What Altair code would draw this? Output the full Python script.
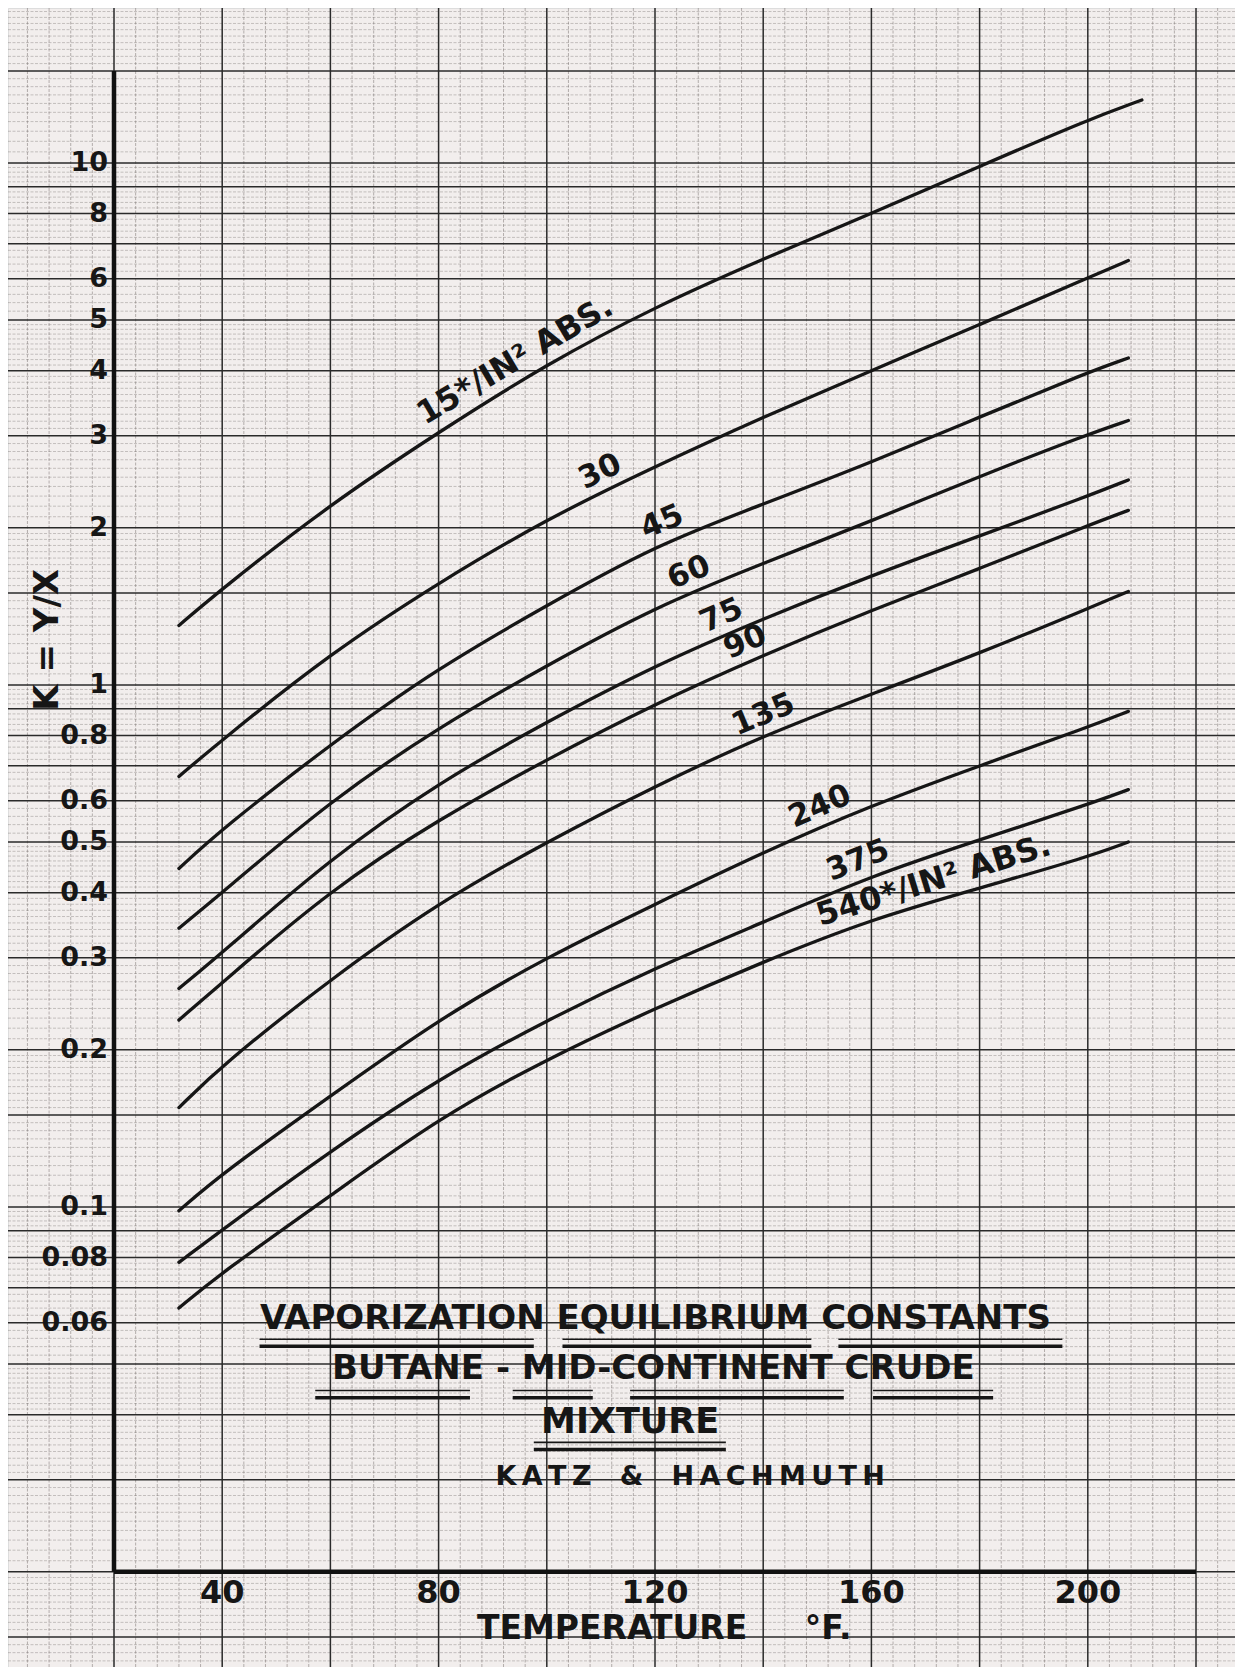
import math
import altair as alt
import numpy as np
import pandas as pd

# ---------------- values ----------------
pressures = ["15", "30", "45", "60", "75", "90", "135", "240", "375", "540"]
temps_std = [32, 40, 60, 80, 100, 120, 140, 160, 180, 200, 207.5]
temps_15 = [32, 40, 60, 80, 100, 120, 140, 160, 180, 200, 210]

k_15 = [1.30, 1.53, 2.22, 3.05, 4.12, 5.3, 6.55, 8.0, 9.85, 12.1, 13.2]
k_30 = [0.668, 0.785, 1.15, 1.57, 2.08, 2.62, 3.26, 4.0, 4.9, 6.02, 6.5]
k_45 = [0.445, 0.53, 0.77, 1.08, 1.42, 1.85, 2.22, 2.67, 3.26, 3.97, 4.23]
k_60 = [0.342, 0.40, 0.60, 0.83, 1.09, 1.41, 1.71, 2.06, 2.51, 3.02, 3.21]
k_75 = [0.262, 0.307, 0.465, 0.65, 0.85, 1.09, 1.34, 1.62, 1.93, 2.30, 2.47]
k_90 = [0.228, 0.269, 0.405, 0.553, 0.72, 0.92, 1.14, 1.39, 1.67, 2.02, 2.16]
k_135 = [0.155, 0.187, 0.273, 0.383, 0.50, 0.64, 0.80, 0.96, 1.15, 1.40, 1.51]
k_240 = [0.0983, 0.116, 0.163, 0.229, 0.301, 0.38, 0.478, 0.588, 0.70, 0.83, 0.89]
k_375 = [0.0783, 0.0904, 0.128, 0.176, 0.228, 0.287, 0.351, 0.431, 0.505, 0.59, 0.63]
k_540 = [0.064, 0.075, 0.105, 0.148, 0.192, 0.24, 0.295, 0.356, 0.408, 0.468, 0.50]

curve_labels = ["15*/IN² ABS.", "30", "45", "60", "75", "90", "135", "240", "375",
                "540*/IN² ABS."]
curve_label_T = [96, 111.4, 122.7, 127.6, 133.7, 138.1, 141.4, 151.9, 158.8, 172.6]

y_tick_values = [10, 8, 6, 5, 4, 3, 2, 1, 0.8, 0.6, 0.5, 0.4, 0.3, 0.2, 0.1, 0.08, 0.06]
y_tick_labels = ["10", "8", "6", "5", "4", "3", "2", "1", "0.8", "0.6", "0.5", "0.4",
                 "0.3", "0.2", "0.1", "0.08", "0.06"]
x_tick_values = [40, 80, 120, 160, 200]
x_tick_labels = ["40", "80", "120", "160", "200"]

NB, TH = "\u00a0", "\u2009"
y_title = "K = Y/X"
x_title = "TEMPERATURE" + NB * 5 + "°F."
title_lines = ["VAPORIZATION EQUILIBRIUM CONSTANTS",
               "BUTANE - MID-CONTINENT CRUDE",
               "MIXTURE",
               TH.join("KATZ") + NB * 3 + "&" + NB * 3 + TH.join("HACHMUTH")]

# ---------------- layout / style ----------------
FONT = "DejaVu Sans"
INK = "#161616"
PAPER = "#f2eeed"
AXIS_T0, AXIS_T1 = 20, 220
AXIS_K0, AXIS_K1 = 0.02, 15
PX_PER_F = 5.41
PX_PER_DEC = 522.0
LEFT, TOP = 106, 63
W, H = 1227, 1659
T_LO = AXIS_T0 - LEFT / PX_PER_F
T_HI = T_LO + W / PX_PER_F
K_HI = AXIS_K1 * 10 ** (TOP / PX_PER_DEC)
K_LO = K_HI / 10 ** (H / PX_PER_DEC)

xs = alt.Scale(domain=[T_LO, T_HI], nice=False, zero=False)
ys = alt.Scale(type="log", domain=[K_LO, K_HI], nice=False)
X = lambda f="T": alt.X(f + ":Q", scale=xs, axis=None)
Y = lambda f="K": alt.Y(f + ":Q", scale=ys, axis=None)

# label placement helpers: half-length (deg F) of the chord used for the text angle
label_half_window = [19, 5, 5, 5, 5, 5, 6, 6, 6, 22]
label_size = [32, 31, 31, 31, 31, 31, 31, 31, 31, 32]

# title block placement (data units) and underline segments
title_pos = pd.DataFrame({
    "T": [120.1, 119.7, 115.4, 126.5],
    "K": [0.061, 0.049, 0.0388, 0.0304],
    "text": title_lines,
    "size": [34, 34, 35, 27],
})
underline_segs = [
    (46.9, 97.6, 1), (102.9, 148.9, 1), (153.9, 195.3, 1),
    (57.2, 85.8, 2), (93.7, 108.5, 2), (115.4, 154.9, 2), (160.3, 182.5, 2),
    (97.6, 133.1, 3),
]
underline_K = {1: (0.0558, 0.0541), 2: (0.0445, 0.0431), 3: (0.0354, 0.0343)}

# ---------------- graph-paper grid ----------------
v_minor = [t for t in range(0, 240, 4) if t % 20 and T_LO < t < T_HI]
v_major = [t for t in range(0, 240, 20) if T_LO < t < T_HI]
h_major, h_minor = [], []
for e in range(-2, 2):
    b = 10.0 ** e
    for m in range(1, 10):
        h_major.append(m * b)
    h_major.append(1.5 * b)
    mins = [1 + 0.05 * i for i in range(1, 20)] + [2 + 0.1 * i for i in range(1, 30)] + \
           [5 + 0.2 * i for i in range(1, 25)]
    for m in mins:
        if abs(m - round(m)) < 1e-6 or abs(m - 1.5) < 1e-6:
            continue
        h_minor.append(m * b)
h_major = [k for k in h_major if K_LO < k < K_HI]
h_minor = [k for k in h_minor if K_LO < k < K_HI]

grid = [
    alt.Chart(pd.DataFrame({"T": v_minor})).mark_rule(
        color="#77716f", strokeWidth=0.8, opacity=0.65, strokeDash=[3, 1.5]).encode(x=X()),
    alt.Chart(pd.DataFrame({"K": h_minor})).mark_rule(
        color="#77716f", strokeWidth=0.7, opacity=0.55, strokeDash=[3, 1.5]).encode(y=Y()),
    alt.Chart(pd.DataFrame({"T": v_major})).mark_rule(
        color="#2a2a2a", strokeWidth=1.5).encode(x=X()),
    alt.Chart(pd.DataFrame({"K": h_major})).mark_rule(
        color="#2a2a2a", strokeWidth=1.5).encode(y=Y()),
]

# ---------------- curves ----------------
series_k = [k_15, k_30, k_45, k_60, k_75, k_90, k_135, k_240, k_375, k_540]
rows = []
for p, ks in zip(pressures, series_k):
    ts = temps_15 if p == "15" else temps_std
    for t, k in zip(ts, ks):
        rows.append({"series": p, "T": t, "K": k})
curves_df = pd.DataFrame(rows)

curves = alt.Chart(curves_df).mark_line(
    color=INK, strokeWidth=3.3, interpolate="basis", strokeCap="round"
).encode(x=X(), y=Y(), detail="series:N", order="T:Q")

# curve labels: sit on the curve, rotated along the local chord
lab_rows = []
for p, ks, txt, t, hw, sz in zip(pressures, series_k, curve_labels, curve_label_T,
                                 label_half_window, label_size):
    ts = temps_15 if p == "15" else temps_std
    lk = np.log10(ks)
    f = lambda v: float(np.interp(v, ts, lk))
    slope = (f(t + hw) - f(t - hw)) / (2.0 * hw) * PX_PER_DEC / PX_PER_F
    ang = 360 - math.degrees(math.atan(slope))
    lab_rows.append({"T": t, "K": 10 ** f(t), "text": txt, "angle": ang, "size": sz})
lab_df = pd.DataFrame(lab_rows)
labels = alt.Chart(lab_df).mark_text(
    font=FONT, fontWeight="bold", color=INK, align="center",
    baseline="bottom", dy=-3
).encode(x=X(), y=Y(), text="text:N", angle=alt.Angle("angle:Q", scale=None),
         size=alt.Size("size:Q", scale=None))

# ---------------- axes ----------------
axis_v = alt.Chart(pd.DataFrame({"T": [AXIS_T0], "K": [AXIS_K0], "K2": [AXIS_K1]})).mark_rule(
    color="#111", strokeWidth=4.5).encode(x=X(), y=Y(), y2="K2:Q")
axis_h = alt.Chart(pd.DataFrame({"T": [AXIS_T0], "T2": [AXIS_T1], "K": [AXIS_K0]})).mark_rule(
    color="#111", strokeWidth=4.5).encode(x=X(), x2="T2:Q", y=Y())

ytick = alt.Chart(pd.DataFrame({"T": [AXIS_T0] * len(y_tick_values), "K": y_tick_values,
                                "text": y_tick_labels})).mark_text(
    font=FONT, fontSize=27, fontWeight="bold", color=INK, align="right",
    baseline="middle", dx=-6).encode(x=X(), y=Y(), text="text:N")
xtick = alt.Chart(pd.DataFrame({"T": x_tick_values, "K": [AXIS_K0] * len(x_tick_values),
                                "text": x_tick_labels})).mark_text(
    font=FONT, fontSize=32, fontWeight="bold", color=INK, align="center",
    baseline="middle", dy=21).encode(x=X(), y=Y(), text="text:N")
xtitle = alt.Chart(pd.DataFrame({"T": [121.7], "K": [AXIS_K0], "text": [x_title]})).mark_text(
    font=FONT, fontSize=33, fontWeight="bold", color=INK, align="center",
    baseline="middle", dy=57).encode(x=X(), y=Y(), text="text:N")
ytitle = alt.Chart(pd.DataFrame({"T": [7.8], "K": [1.22], "text": [y_title]})).mark_text(
    font=FONT, fontSize=34, fontWeight="bold", color=INK, align="center",
    baseline="middle", angle=270).encode(x=X(), y=Y(), text="text:N")

# ---------------- title block ----------------
title_block = alt.Chart(title_pos).mark_text(
    font=FONT, fontWeight="bold", color=INK, align="center", baseline="middle"
).encode(x=X(), y=Y(), text="text:N", size=alt.Size("size:Q", scale=None))
ul1 = pd.DataFrame([{"T": a, "T2": b, "K": underline_K[l][0]} for a, b, l in underline_segs])
ul2 = pd.DataFrame([{"T": a, "T2": b, "K": underline_K[l][1]} for a, b, l in underline_segs])
underlines = [
    alt.Chart(ul1).mark_rule(color=INK, strokeWidth=1.6).encode(x=X(), x2="T2:Q", y=Y()),
    alt.Chart(ul2).mark_rule(color=INK, strokeWidth=3.4).encode(x=X(), x2="T2:Q", y=Y()),
]

chart = alt.layer(
    *grid, axis_v, axis_h, curves, labels, ytick, xtick, xtitle, ytitle,
    title_block, *underlines
).properties(
    width=W, height=H, padding=0, autosize=alt.AutoSizeParams(type="none")
).configure_view(strokeWidth=0).configure(background=PAPER)

chart.save("out.html", embed_options={"renderer": "svg", "actions": False})
